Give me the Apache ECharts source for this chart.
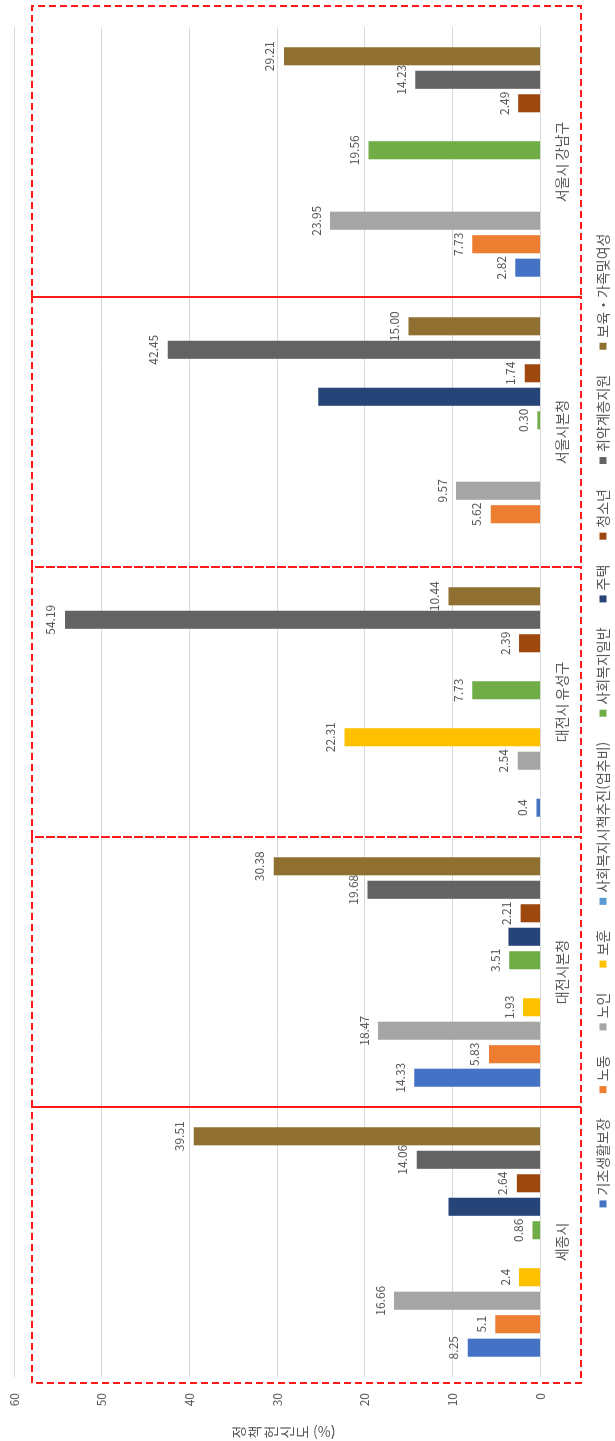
<!DOCTYPE html>
<html lang="ko">
<head>
<meta charset="utf-8">
<script src="https://cdn.jsdelivr.net/npm/echarts@6/dist/echarts.min.js"></script>
<style>
html,body{margin:0;padding:0;width:615px;height:1441px;overflow:hidden;background:#fff}
/* the chart is laid out landscape and turned a quarter turn counter-clockwise */
#chart{position:absolute;left:0;top:0;width:1441px;height:615px;transform-origin:0 0;transform:translate(0,1441px) rotate(-90deg)}
</style>
</head>
<body>
<div id="chart"></div>
<script>
// ---- data ----
const categories = ['세종시', '대전시본청', '대전시 유성구', '서울시본청', '서울시 강남구'];

const seriesNames = ['기초생활보장', '노동', '노인', '보훈', '사회복지시책추진(업추비)',
  '사회복지일반', '주택', '청소년', '취약계층지원', '보육・가족및여성'];

// values as printed on the labels (null = no bar)
const basicLiving   = ['8.25', '14.33', '0.4',  null,    '2.82'];
const labour        = ['5.1',  '5.83',  null,   '5.62',  '7.73'];
const elderly       = ['16.66','18.47', '2.54', '9.57',  '23.95'];
const veterans      = ['2.4',  '1.93',  '22.31',null,    null];
const welfarePolicy = [null,   null,    null,   null,    null];
const generalWelfare= ['0.86', '3.51',  '7.73', '0.30',  '19.56'];
const housing       = ['10.45','3.6',   null,   '25.3',  null];
const youth         = ['2.64', '2.21',  '2.39', '1.74',  '2.49'];
const vulnerable    = ['14.06','19.68', '54.19','42.45', '14.23'];
const childcare     = ['39.51','30.38', '10.44','15.00', '29.21'];

const valueTicks = [0, 10, 20, 30, 40, 50, 60];
const axisTitle = '정책헌신도';
const axisUnit = '(%)';

// ---- styling ----
const seriesValues = [basicLiving, labour, elderly, veterans, welfarePolicy,
  generalWelfare, housing, youth, vulnerable, childcare];
const colors = ['#4472C4', '#ED7D31', '#A5A5A5', '#FFC000', '#5B9BD5',
  '#70AD47', '#264478', '#9E480E', '#636363', '#8F7030'];
const labelled = [true, true, true, true, true, true, false, true, true, true];
const FONT = "'Noto Sans CJK KR', 'Noto Sans', sans-serif";
const TEXT = '#595959';
const GRID = '#D9D9D9';

const chart = echarts.init(document.getElementById('chart'));

const series = seriesNames.map((name, i) => ({
  name,
  type: 'bar',
  barCategoryGap: '15%',
  barGap: '30%',
  itemStyle: { color: colors[i] },
  label: {
    show: labelled[i],
    position: 'top',
    distance: 8,
    color: TEXT,
    fontSize: 12,
    fontFamily: FONT,
    formatter: p => seriesValues[i][p.dataIndex]
  },
  data: seriesValues[i].map(v => (v === null ? null : Number(v)))
}));

chart.setOption({
  animation: false,
  textStyle: { fontFamily: FONT },
  grid: { left: 64, right: 27, top: 14, bottom: 75 },
  xAxis: {
    type: 'category',
    data: categories,
    axisTick: { show: false },
    axisLine: { lineStyle: { color: GRID, width: 1 } },
    axisLabel: { color: TEXT, fontSize: 14, margin: 15, fontFamily: FONT }
  },
  yAxis: {
    type: 'value',
    min: valueTicks[0],
    max: valueTicks[valueTicks.length - 1],
    interval: valueTicks[1] - valueTicks[0],
    axisLine: { show: false },
    axisTick: { show: false },
    splitLine: { lineStyle: { color: GRID, width: 1 } },
    axisLabel: { color: TEXT, fontSize: 12, margin: 16, fontFamily: FONT }
  },
  legend: {
    data: seriesNames,
    top: 591,
    left: 'center',
    icon: 'rect',
    itemWidth: 7,
    itemHeight: 7,
    itemGap: 25,
    textStyle: { color: TEXT, fontSize: 14, fontFamily: FONT }
  },
  series
});

// dashed frames around each region's group and the stacked axis title
function drawOverlay() {
  const cx = i => chart.convertToPixel({ xAxisIndex: 0 }, i);
  const vy = v => chart.convertToPixel({ yAxisIndex: 0 }, v);
  const band = cx(1) - cx(0);
  const top = vy(60) + 18;
  const bottom = vy(0) + 41;
  const elements = [];
  categories.forEach((c, i) => {
    let x0 = cx(i) - band / 2;
    let x1 = cx(i) + band / 2;
    if (i === 0) x0 -= 6;
    if (i === categories.length - 1) x1 += 21;
    elements.push({
      type: 'rect',
      shape: { x: x0, y: top, width: x1 - x0, height: bottom - top },
      style: { fill: null, stroke: '#FF1A1A', lineWidth: 2, lineDash: [7, 4] },
      z: 10
    });
  });
  const mid = vy(30);
  const step = 16;
  const chars = axisTitle.split('');
  const start = mid - 45;
  chars.forEach((ch, k) => {
    elements.push({
      type: 'text',
      x: 9, y: start + k * step,
      style: { text: ch, fill: TEXT, fontSize: 14, fontFamily: FONT, align: 'center', verticalAlign: 'top' }
    });
  });
  elements.push({
    type: 'text',
    x: 9, y: start + chars.length * step + 1,
    rotation: -Math.PI / 2,
    style: { text: axisUnit, fill: TEXT, fontSize: 14, fontFamily: FONT, align: 'left', verticalAlign: 'middle' }
  });
  chart.setOption({ graphic: { elements } });
}
drawOverlay();
</script>
</body>
</html>
